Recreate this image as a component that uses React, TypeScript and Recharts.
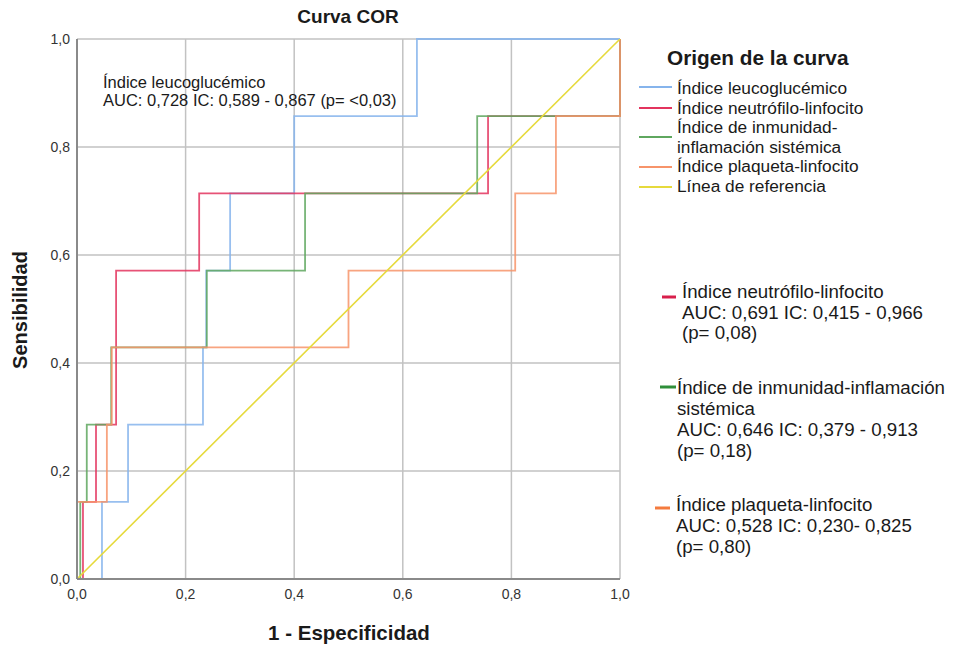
import { CartesianGrid, Line, LineChart, XAxis, YAxis } from "recharts";

const axisTicks = [0, 0.2, 0.4, 0.6, 0.8, 1];

// 1 - especificidad (fpr) y sensibilidad de cada punto de corte
const leucoFpr = [0, 0.046, 0.046, 0.094, 0.094, 0.232, 0.232, 0.238, 0.238, 0.282, 0.282, 0.4, 0.4, 0.626, 0.626, 1];
const leucoSens = [0, 0, 0.143, 0.143, 0.286, 0.286, 0.429, 0.429, 0.571, 0.571, 0.714, 0.714, 0.857, 0.857, 1, 1];

const nlrFpr = [0, 0.011, 0.011, 0.035, 0.035, 0.072, 0.072, 0.225, 0.225, 0.757, 0.757, 1, 1];
const nlrSens = [0, 0, 0.143, 0.143, 0.286, 0.286, 0.571, 0.571, 0.714, 0.714, 0.857, 0.857, 1];

const siiFpr = [0, 0.006, 0.006, 0.018, 0.018, 0.063, 0.063, 0.239, 0.239, 0.42, 0.42, 0.737, 0.737, 1, 1];
const siiSens = [0, 0, 0.143, 0.143, 0.286, 0.286, 0.429, 0.429, 0.571, 0.571, 0.714, 0.714, 0.857, 0.857, 1];

const plrFpr = [0, 0, 0.055, 0.055, 0.064, 0.064, 0.5, 0.5, 0.807, 0.807, 0.882, 0.882, 1, 1];
const plrSens = [0, 0.143, 0.143, 0.286, 0.286, 0.429, 0.429, 0.571, 0.571, 0.714, 0.714, 0.857, 0.857, 1];

const refFpr = [0, 1];
const refSens = [0, 1];

const curveNames = [
  "Índice leucoglucémico",
  "Índice neutrófilo-linfocito",
  "Índice de inmunidad-inflamación sistémica",
  "Índice plaqueta-linfocito",
  "Línea de referencia",
];

const leucoNote = ["Índice leucoglucémico", "AUC: 0,728 IC: 0,589 - 0,867 (p= <0,03)"];
const nlrNote = ["Índice neutrófilo-linfocito", "AUC: 0,691 IC: 0,415 - 0,966", "(p= 0,08)"];
const siiNote = ["Índice de inmunidad-inflamación", "sistémica", "AUC: 0,646 IC: 0,379 - 0,913", "(p= 0,18)"];
const plrNote = ["Índice plaqueta-linfocito", "AUC: 0,528 IC: 0,230- 0,825", "(p= 0,80)"];

const COLORS = {
  leuco: "#86B4EC",
  nlr: "#E3345E",
  sii: "#5FA75F",
  plr: "#F7946A",
  ref: "#E6DA3C",
};

const FONT = "'Liberation Sans', Arial, Helvetica, sans-serif";

const toPoints = (xs: number[], ys: number[]) => xs.map((x, i) => ({ x, y: ys[i] }));

const fmt = (v: number) => v.toFixed(1).replace(".", ",");

// tick labels drawn by hand so the font size sticks
const XTick = (props: any) => (
  <text x={props.x} y={props.y} dy="0.71em" textAnchor="middle" fontSize={14} fill="#333" fontFamily={FONT}>
    {fmt(props.payload.value)}
  </text>
);

const YTick = (props: any) => (
  <text x={props.x} y={props.y} dy="0.36em" textAnchor="end" fontSize={14} fill="#333" fontFamily={FONT}>
    {fmt(props.payload.value)}
  </text>
);

function Overlay() {
  const legendRows = [
    { color: COLORS.leuco, lines: [curveNames[0]], swatchY: 87 },
    { color: COLORS.nlr, lines: [curveNames[1]], swatchY: 108 },
    { color: COLORS.sii, lines: ["Índice de inmunidad-", "inflamación sistémica"], swatchY: 137 },
    { color: COLORS.plr, lines: [curveNames[3]], swatchY: 167 },
    { color: COLORS.ref, lines: [curveNames[4]], swatchY: 187 },
  ];
  let baseline = 94;

  return (
    <svg
      width={958}
      height={646}
      style={{ position: "absolute", left: 0, top: 0, pointerEvents: "none" }}
      fontFamily={FONT}
      fill="#1a1a1a"
    >
      <text x={348} y={23} textAnchor="middle" fontWeight="bold" fontSize={19}>
        Curva COR
      </text>
      <text
        transform="translate(27,310) rotate(-90)"
        textAnchor="middle"
        fontWeight="bold"
        fontSize={20}
      >
        Sensibilidad
      </text>
      <text x={349} y={640} textAnchor="middle" fontWeight="bold" fontSize={20.5}>
        1 - Especificidad
      </text>

      {leucoNote.map((t, i) => (
        <text key={t} x={103} y={88 + i * 18} fontSize={16.5}>
          {t}
        </text>
      ))}

      <text x={667} y={65} fontWeight="bold" fontSize={20.8}>
        Origen de la curva
      </text>
      {legendRows.map((row) => {
        const start = baseline;
        baseline += row.lines.length * 19.5;
        return (
          <g key={row.lines[0]}>
            <line x1={639} x2={672} y1={row.swatchY} y2={row.swatchY} stroke={row.color} strokeWidth={2} />
            {row.lines.map((t, i) => (
              <text key={t} x={677} y={start + i * 19.5} fontSize={17.3}>
                {t}
              </text>
            ))}
          </g>
        );
      })}

      <line x1={662} x2={676} y1={297} y2={297} stroke="#D81F4B" strokeWidth={3} />
      {nlrNote.map((t, i) => (
        <text key={t} x={682} y={298 + i * 20.5} fontSize={18.7}>
          {t}
        </text>
      ))}

      <line x1={660} x2={676} y1={387} y2={387} stroke="#2F8F3A" strokeWidth={3} />
      {siiNote.map((t, i) => (
        <text key={t} x={677} y={394 + i * 21} fontSize={18.7}>
          {t}
        </text>
      ))}

      <line x1={655} x2={670} y1={508} y2={508} stroke="#F47B3E" strokeWidth={3} />
      {plrNote.map((t, i) => (
        <text key={t} x={676} y={511 + i * 21} fontSize={18.7}>
          {t}
        </text>
      ))}
    </svg>
  );
}

export default function App() {
  const series = [
    { key: "leuco", data: toPoints(leucoFpr, leucoSens), color: COLORS.leuco },
    { key: "nlr", data: toPoints(nlrFpr, nlrSens), color: COLORS.nlr },
    { key: "sii", data: toPoints(siiFpr, siiSens), color: COLORS.sii },
    { key: "plr", data: toPoints(plrFpr, plrSens), color: COLORS.plr },
  ];

  return (
    <div
      style={{
        position: "absolute",
        left: 0,
        top: 0,
        width: 958,
        height: 646,
        background: "#fff",
        fontFamily: FONT,
      }}
    >
      <LineChart width={958} height={646} margin={{ top: 39, right: 338, bottom: 37, left: 47 }}>
        <CartesianGrid stroke="#C2C2C2" strokeWidth={1.5} />
        <XAxis
          dataKey="x"
          type="number"
          domain={[0, 1]}
          ticks={axisTicks}
          height={30}
          tickSize={0}
          tickMargin={10}
          stroke="#8A8A8A"
          strokeWidth={2}
          tick={<XTick />}
        />
        <YAxis
          dataKey="y"
          type="number"
          domain={[0, 1]}
          ticks={axisTicks}
          width={30}
          tickSize={0}
          tickMargin={7}
          stroke="#8A8A8A"
          strokeWidth={2}
          tick={<YTick />}
        />
        {series.map((s) => (
          <Line
            key={s.key}
            data={s.data}
            dataKey="y"
            type="linear"
            stroke={s.color}
            strokeWidth={1.8}
            strokeOpacity={0.85}
            dot={false}
            activeDot={false}
            isAnimationActive={false}
          />
        ))}
        <Line
          data={toPoints(refFpr, refSens)}
          dataKey="y"
          type="linear"
          stroke={COLORS.ref}
          strokeWidth={1.6}
          dot={false}
          activeDot={false}
          isAnimationActive={false}
        />
      </LineChart>
      <Overlay />
    </div>
  );
}
